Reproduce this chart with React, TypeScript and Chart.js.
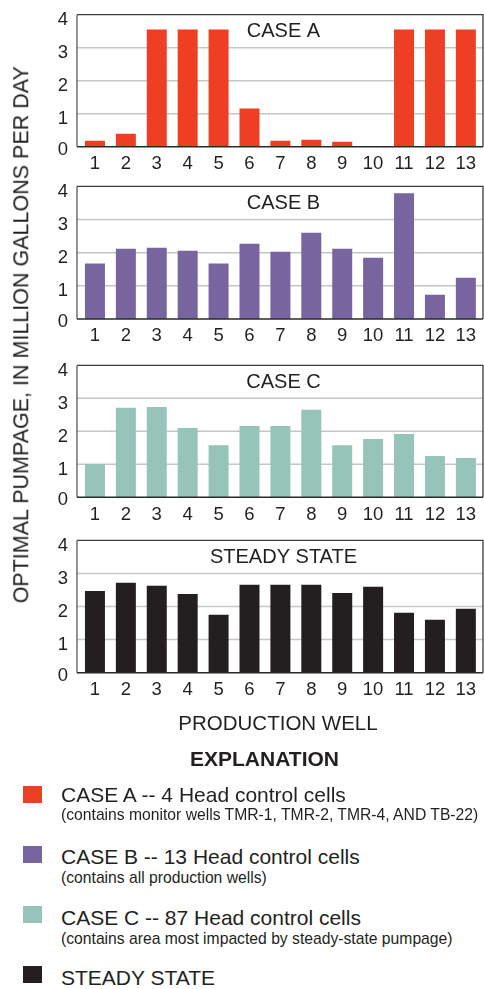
import React, { useEffect, useRef } from 'react';
import { Chart, registerables } from 'chart.js';

Chart.register(...registerables);

// ---------- DATA ----------
const WELLS = ['1', '2', '3', '4', '5', '6', '7', '8', '9', '10', '11', '12', '13'];
const Y_TICKS = [0, 1, 2, 3, 4];
const Y_TICK_LABELS = ['0', '1', '2', '3', '4'];
const CASE_A = [0.18, 0.39, 3.55, 3.55, 3.55, 1.16, 0.18, 0.21, 0.15, 0.02, 3.55, 3.55, 3.55];
const CASE_B = [1.67, 2.12, 2.15, 2.06, 1.67, 2.27, 2.03, 2.6, 2.12, 1.85, 3.79, 0.73, 1.24];
const CASE_C = [1.01, 2.71, 2.74, 2.1, 1.58, 2.16, 2.16, 2.65, 1.58, 1.77, 1.92, 1.25, 1.19];
const STEADY = [2.47, 2.72, 2.63, 2.38, 1.75, 2.66, 2.66, 2.66, 2.41, 2.6, 1.81, 1.6, 1.93];
const PANEL_TITLES = ['CASE A', 'CASE B', 'CASE C', 'STEADY STATE'];
const Y_TITLE = 'OPTIMAL PUMPAGE, IN MILLION GALLONS PER DAY';
const X_TITLE = 'PRODUCTION WELL';
const LEGEND_HEADING = 'EXPLANATION';
const LEGEND_LABELS = [
  'CASE A -- 4 Head control cells',
  'CASE B -- 13 Head control cells',
  'CASE C -- 87 Head control cells',
  'STEADY STATE',
];
const LEGEND_NOTES = [
  '(contains monitor wells TMR-1, TMR-2, TMR-4, AND TB-22)',
  '(contains all production wells)',
  '(contains area most impacted by steady-state pumpage)',
  '',
];

// ---------- STYLE ----------
const FONT = '"Liberation Sans", Arial, Helvetica, sans-serif';
const TEXT = '#231f20';
const COLORS = ['#ee3e23', '#7865a0', '#97c4b8', '#231f20'];
const FRAME_LEFT = 77;
const FRAME_RIGHT = 483;
const AREA_LEFT = 79.5;
const AREA_RIGHT = 481.3;
const TICK_SIZE = 18.5;
const W = 484;

const panelPlugin = {
  id: 'panelFrame',
  beforeDatasetsDraw(chart: any) {
    const { ctx, scales } = chart;
    const y = scales.y;
    ctx.save();
    ctx.strokeStyle = '#c6c6c6';
    ctx.lineWidth = 1.5;
    for (const v of Y_TICKS) {
      if (v === Y_TICKS[0] || v === Y_TICKS[Y_TICKS.length - 1]) continue;
      const py = y.getPixelForValue(v);
      ctx.beginPath();
      ctx.moveTo(FRAME_LEFT, py);
      ctx.lineTo(FRAME_RIGHT, py);
      ctx.stroke();
    }
    ctx.restore();
  },
  afterDatasetsDraw(chart: any, _args: any, opts: any) {
    const { ctx, chartArea, scales } = chart;
    ctx.save();
    ctx.lineWidth = 1.3;
    ctx.strokeStyle = '#3c3c3c';
    ctx.beginPath();
    ctx.moveTo(FRAME_LEFT, chartArea.top);
    ctx.lineTo(FRAME_RIGHT, chartArea.top);
    ctx.lineTo(FRAME_RIGHT, chartArea.bottom);
    ctx.stroke();
    ctx.strokeStyle = '#5a5a5a';
    ctx.beginPath();
    ctx.moveTo(FRAME_LEFT, chartArea.top);
    ctx.lineTo(FRAME_LEFT, chartArea.bottom);
    ctx.stroke();
    ctx.strokeStyle = '#2a2a2a';
    ctx.lineWidth = 1.6;
    ctx.beginPath();
    ctx.moveTo(FRAME_LEFT, chartArea.bottom);
    ctx.lineTo(FRAME_RIGHT, chartArea.bottom);
    ctx.stroke();
    // y tick labels
    ctx.fillStyle = TEXT;
    ctx.font = `${TICK_SIZE}px ${FONT}`;
    ctx.textAlign = 'right';
    ctx.textBaseline = 'alphabetic';
    Y_TICKS.forEach((v, i) => {
      const py = scales.y.getPixelForValue(v);
      ctx.fillText(Y_TICK_LABELS[i], AREA_LEFT - 11.5, py + (v === Y_TICKS[0] ? 8 : 10.5));
    });
    // panel title
    ctx.font = `20px ${FONT}`;
    ctx.textAlign = 'center';
    ctx.fillText(opts.text, (FRAME_LEFT + FRAME_RIGHT) / 2 + 3.5, chartArea.top + 22.5);
    ctx.restore();
  },
};

type PanelProps = {
  values: number[];
  color: string;
  title: string;
  canvasTop: number;
  plotTop: number;
  plotBottom: number;
};

function Panel({ values, color, title, canvasTop, plotTop, plotBottom }: PanelProps) {
  const ref = useRef<HTMLCanvasElement | null>(null);
  const height = 178;
  useEffect(() => {
    const canvas = ref.current;
    if (!canvas) return;
    const padTop = plotTop - canvasTop;
    const xAxisH = height - (plotBottom - canvasTop);
    const chart = new Chart(canvas, {
      type: 'bar',
      data: {
        labels: WELLS,
        datasets: [
          {
            data: values,
            backgroundColor: color,
            borderWidth: 0,
            categoryPercentage: 1,
            barPercentage: 20 / ((AREA_RIGHT - AREA_LEFT) / WELLS.length),
          },
        ],
      },
      options: {
        animation: false,
        responsive: false,
        maintainAspectRatio: false,
        devicePixelRatio: 1,
        events: [],
        layout: { padding: { top: padTop, right: W - AREA_RIGHT, left: 0, bottom: 0 } },
        plugins: {
          legend: { display: false },
          tooltip: { enabled: false },
          title: { display: false },
          panelFrame: { text: title },
        } as any,
        scales: {
          x: {
            grid: { display: false, drawTicks: false },
            border: { display: false },
            ticks: {
              color: TEXT,
              font: { family: FONT, size: TICK_SIZE, lineHeight: 1 },
              padding: 8,
              autoSkip: false,
              maxRotation: 0,
            },
            afterFit: (s: any) => {
              s.height = xAxisH;
              s.paddingLeft = 0;
              s.paddingRight = 0;
            },
          },
          y: {
            min: Y_TICKS[0],
            max: Y_TICKS[Y_TICKS.length - 1],
            afterBuildTicks: (s: any) => {
              s.ticks = Y_TICKS.map((v) => ({ value: v }));
            },
            grid: { display: false, drawTicks: false },
            border: { display: false },
            ticks: { display: false },
            afterFit: (s: any) => {
              s.width = AREA_LEFT;
              s.paddingTop = 0;
              s.paddingBottom = 0;
            },
          },
        },
      },
      plugins: [panelPlugin],
    });
    return () => chart.destroy();
  }, [values, color, title, canvasTop, plotTop, plotBottom]);
  return (
    <canvas
      ref={ref}
      width={W}
      height={height}
      style={{ position: 'absolute', left: 0, top: canvasTop, width: W, height }}
    />
  );
}

const PANELS = [
  { values: CASE_A, canvasTop: 0, plotTop: 14.7, plotBottom: 146.7 },
  { values: CASE_B, canvasTop: 171, plotTop: 186.3, plotBottom: 319 },
  { values: CASE_C, canvasTop: 350, plotTop: 365.3, plotBottom: 497.3 },
  { values: STEADY, canvasTop: 525, plotTop: 540.3, plotBottom: 672.7 },
];

const LEGEND_POS = [
  { sq: 786, main: 801.7, note: 820 },
  { sq: 846, main: 863.3, note: 883 },
  { sq: 906, main: 925, note: 944 },
  { sq: 966, main: 985, note: 0 },
];

function textAt(baseline: number, size: number) {
  return baseline - 0.8465 * size;
}

export default function App() {
  const yTitleSize = 21.5;
  const yTitleLen = 544;
  const yCenterX = 21.9;
  const yCenterY = 335;
  return (
    <div
      style={{
        position: 'absolute',
        left: 0,
        top: 0,
        width: W,
        height: 989,
        overflow: 'hidden',
        background: '#fff',
        fontFamily: FONT,
        color: TEXT,
      }}
    >
      {PANELS.map((p, i) => (
        <Panel key={i} {...p} color={COLORS[i]} title={PANEL_TITLES[i]} />
      ))}
      <div
        style={{
          position: 'absolute',
          left: yCenterX - yTitleLen / 2,
          top: yCenterY - yTitleSize / 2,
          width: yTitleLen,
          height: yTitleSize,
          lineHeight: `${yTitleSize}px`,
          fontSize: yTitleSize,
          textAlign: 'center',
          whiteSpace: 'nowrap',
          transform: 'rotate(-90deg)',
          transformOrigin: '50% 50%',
        }}
      >
        {Y_TITLE}
      </div>
      <div
        style={{
          position: 'absolute',
          left: 78,
          width: 400,
          top: textAt(730, 20.5),
          fontSize: 20.5,
          lineHeight: '20.5px',
          textAlign: 'center',
          whiteSpace: 'nowrap',
        }}
      >
        {X_TITLE}
      </div>
      <div
        style={{
          position: 'absolute',
          left: 64.5,
          width: 400,
          top: textAt(766, 21),
          fontSize: 21,
          lineHeight: '21px',
          fontWeight: 'bold',
          textAlign: 'center',
          whiteSpace: 'nowrap',
        }}
      >
        {LEGEND_HEADING}
      </div>
      {LEGEND_LABELS.map((label, i) => (
        <React.Fragment key={i}>
          <div
            style={{
              position: 'absolute',
              left: 23,
              top: LEGEND_POS[i].sq,
              width: 19,
              height: 17,
              background: COLORS[i],
            }}
          />
          <div
            style={{
              position: 'absolute',
              left: 61,
              top: textAt(LEGEND_POS[i].main, 21),
              fontSize: 21,
              lineHeight: '21px',
              whiteSpace: 'nowrap',
            }}
          >
            {label}
          </div>
          {LEGEND_NOTES[i] ? (
            <div
              style={{
                position: 'absolute',
                left: 61,
                top: textAt(LEGEND_POS[i].note, 15.7),
                fontSize: 15.7,
                lineHeight: '15.7px',
                whiteSpace: 'nowrap',
              }}
            >
              {LEGEND_NOTES[i]}
            </div>
          ) : null}
        </React.Fragment>
      ))}
    </div>
  );
}
